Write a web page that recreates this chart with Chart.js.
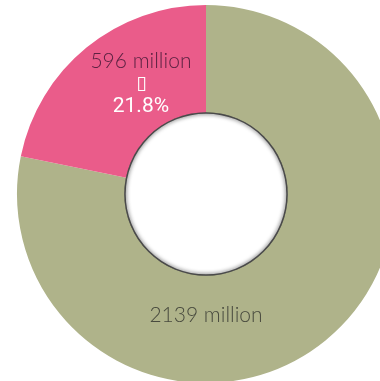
<!DOCTYPE html>
<html>
<head>
<meta charset="utf-8">
<script src="https://cdn.jsdelivr.net/npm/chart.js@4/dist/chart.umd.min.js"></script>
<style>
  html, body { margin: 0; padding: 0; background: #fff; overflow: hidden; }
  canvas { display: block; }
</style>
</head>
<body>
<canvas id="donutChart" width="400" height="390"></canvas>
<script>
const ctx = document.getElementById("donutChart").getContext("2d");

// slice data, clockwise from 12 o'clock
const sliceNames = ["2139 million", "596 million"];
const sliceValues = [2139, 596];
const sliceColors = ["#afb38a", "#ea5c8a"];
const labelColors = ["#484a3e", "#5c2242"];

// where each label sits: angle from 12 o'clock (deg) and fraction of outer radius
const labelPlace = [
  { angle: 180, r: 0.64 },
  { angle: -26.2, r: 0.78 },
];

const total = sliceValues.reduce((a, b) => a + b, 0);

const holeShadow = {
  id: "holeShadow",
  afterDatasetsDraw(chart) {
    const arc = chart.getDatasetMeta(0).data[0];
    const { x, y, innerRadius } = arc.getProps(["x", "y", "innerRadius"], true);
    const c = chart.ctx;
    c.save();
    c.beginPath();
    c.arc(x, y, innerRadius + 0.5, 0, Math.PI * 2);
    c.clip();
    c.shadowColor = "rgba(0,0,0,0.8)";
    c.shadowBlur = 4;
    c.strokeStyle = "#4a4a4a";
    c.lineWidth = 2;
    c.beginPath();
    c.arc(x, y, innerRadius, 0, Math.PI * 2);
    c.stroke();
    c.restore();
  },
};

const sliceText = {
  id: "sliceText",
  afterDraw(chart) {
    const arcs = chart.getDatasetMeta(0).data;
    const c = chart.ctx;
    c.save();
    c.textAlign = "center";
    c.textBaseline = "middle";
    arcs.forEach((arc, i) => {
      const { x, y, outerRadius } = arc.getProps(["x", "y", "outerRadius"], true);
      const a = (labelPlace[i].angle * Math.PI) / 180;
      const lx = x + Math.sin(a) * outerRadius * labelPlace[i].r;
      const ly = y - Math.cos(a) * outerRadius * labelPlace[i].r;
      c.fillStyle = labelColors[i];
      c.font = "300 21px Lato";
      c.fillText(sliceNames[i], lx, ly);
      if (i === 1) {
        const pct = ((sliceValues[i] / total) * 100).toFixed(1) + "%";
        c.fillStyle = "#ffffff";
        c.font = "bold 19px 'DejaVu Sans'";
        c.fillText("\u25AF", lx + 0.5, ly + 22);
        c.font = "400 21px Roboto";
        c.fillText(pct, lx, ly + 45);
      }
    });
    c.restore();
  },
};

new Chart(ctx, {
  type: "doughnut",
  data: {
    labels: sliceNames,
    datasets: [
      {
        data: sliceValues,
        backgroundColor: sliceColors,
        borderWidth: 0,
        hoverOffset: 0,
      },
    ],
  },
  options: {
    responsive: false,
    animation: false,
    cutout: "43%",
    layout: { padding: { left: 17, top: 5, right: 5, bottom: 7 } },
    plugins: {
      legend: { display: false },
      tooltip: { enabled: false },
    },
  },
  plugins: [holeShadow, sliceText],
});
</script>
</body>
</html>
